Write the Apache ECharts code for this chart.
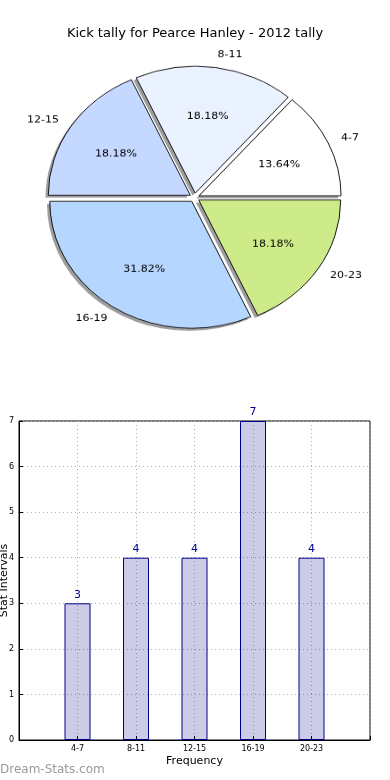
<!DOCTYPE html>
<html>
<head>
<meta charset="utf-8">
<script src="https://cdn.jsdelivr.net/npm/echarts@6/dist/echarts.min.js"></script>
<style>
html,body{margin:0;padding:0;background:#fff;}
#main{position:absolute;left:0;top:0;width:390px;height:780px;}
#pie{position:absolute;left:0;top:0;width:390px;height:440px;transform:scaleY(0.894);transform-origin:0 0;pointer-events:none;}
</style>
</head>
<body>
<div id="main"></div>
<div id="pie"></div>
<script>
var titleText = 'Kick tally for Pearce Hanley - 2012 tally';
var categories = ['4-7', '8-11', '12-15', '16-19', '20-23'];
var values = [3, 4, 4, 7, 4];
var sliceColors = ['#ffffff', '#eaf1ff', '#c5d8ff', '#b5d6ff', '#ceeb8a'];
var yTicks = [0, 1, 2, 3, 4, 5, 6, 7];
var xAxisName = 'Frequency';
var yAxisName = 'Stat Intervals';
var watermark = 'Dream-Stats.com';

var FONT = 'DejaVu Sans';

// ---------- bar chart + title ----------
var main = echarts.init(document.getElementById('main'), null, {renderer: 'canvas'});
var xCats = [''].concat(categories, ['']);
var barData = [null].concat(values, [null]);
main.setOption({
  animation: false,
  textStyle: {fontFamily: FONT},
  title: {
    text: titleText, left: 'center', top: 22,
    textStyle: {fontFamily: FONT, fontSize: 13, fontWeight: 'normal', color: '#000'}
  },
  graphic: [{
    type: 'text', left: 0, top: 764,
    style: {text: watermark, fontFamily: FONT, fontSize: 12, fontWeight: 'normal', fill: '#999999'}
  }],
  grid: {left: 19, right: 20, top: 421, bottom: 40, containLabel: false, outerBoundsMode: 'none',
    show: true, borderColor: '#000', borderWidth: 1, backgroundColor: 'transparent'},
  xAxis: {
    type: 'category', data: xCats, boundaryGap: false,
    name: xAxisName, nameLocation: 'middle', nameGap: 16, nameMoveOverlap: false,
    nameTextStyle: {fontFamily: FONT, fontSize: 11, color: '#000'},
    axisLine: {lineStyle: {color: '#000', width: 1}},
    axisTick: {show: true, inside: true, length: 4, interval: 0, lineStyle: {color: '#000'}},
    axisLabel: {fontFamily: FONT, fontSize: 8, color: '#000', margin: 5, interval: 0},
    splitLine: {show: true, interval: 0, lineStyle: {color: '#b0b0b0', type: [1, 3], width: 1}}
  },
  yAxis: {
    type: 'value', min: 0, max: 7, interval: 1,
    name: yAxisName, nameLocation: 'middle', nameGap: 9, nameMoveOverlap: false,
    nameTextStyle: {fontFamily: FONT, fontSize: 11, color: '#000'},
    axisLine: {show: true, lineStyle: {color: '#000', width: 1}},
    axisTick: {show: true, inside: true, length: 4, lineStyle: {color: '#000'}},
    axisLabel: {fontFamily: FONT, fontSize: 8, color: '#000', margin: 5,
      formatter: function (v) { return yTicks.indexOf(v) >= 0 ? String(v) : ''; }},
    splitLine: {show: true, lineStyle: {color: '#b0b0b0', type: [1, 3], width: 1}}
  },
  series: [{
    type: 'bar', data: barData, barWidth: 26,
    itemStyle: {color: 'rgba(0,0,128,0.2)', borderColor: '#00008b', borderWidth: 1},
    label: {show: true, position: 'top', distance: 3, fontFamily: FONT, fontSize: 11, color: '#00008b'}
  }]
});

// ---------- pie chart (scaled vertically to an ellipse) ----------
var pie = echarts.init(document.getElementById('pie'), null, {renderer: 'canvas'});
var CX = 194.5, CY = 221, R = 142;
var pieData = categories.map(function (c, i) {
  return {
    name: c, value: values[i], selected: true,
    itemStyle: {color: sliceColors[i]},
    select: {itemStyle: {color: sliceColors[i]}}
  };
});
var plainData = categories.map(function (c, i) {
  return {name: c, value: values[i], selected: true};
});
pie.setOption({
  animation: false,
  series: [{
    // shadow layer
    type: 'pie', center: [CX - 2.8, CY + 2.8], radius: [0, R],
    startAngle: 0, clockwise: false, z: 1,
    selectedMode: 'multiple', selectedOffset: 5,
    silent: true, avoidLabelOverlap: false,
    itemStyle: {color: 'rgba(40,40,40,0.45)', borderWidth: 0},
    select: {itemStyle: {color: 'rgba(40,40,40,0.45)', borderWidth: 0}},
    label: {show: false}, labelLine: {show: false},
    data: plainData
  }, {
    type: 'pie', center: [CX, CY], radius: [0, R],
    startAngle: 0, clockwise: false, z: 2,
    selectedMode: 'multiple', selectedOffset: 5,
    avoidLabelOverlap: false,
    emphasis: {scale: false},
    itemStyle: {borderColor: '#000', borderWidth: 0.9},
    label: {show: true, position: 'outside', fontFamily: FONT, fontSize: 11, color: '#000',
      formatter: '{b}', distanceToLabelLine: 0},
    labelLine: {show: false, length: 14, length2: 0},
    data: pieData
  }, {
    // percentage labels at 0.6 R
    type: 'pie', center: [CX, CY + 1.5], radius: [0, R * 1.2],
    startAngle: 0, clockwise: false, z: 3,
    selectedMode: 'multiple', selectedOffset: 5,
    silent: true, avoidLabelOverlap: false,
    itemStyle: {color: 'rgba(0,0,0,0)', borderWidth: 0},
    select: {itemStyle: {color: 'rgba(0,0,0,0)', borderWidth: 0}},
    label: {show: true, position: 'inside', fontFamily: FONT, fontSize: 11, color: '#000',
      formatter: '{d}%'},
    labelLine: {show: false},
    data: plainData
  }]
});
</script>
</body>
</html>
